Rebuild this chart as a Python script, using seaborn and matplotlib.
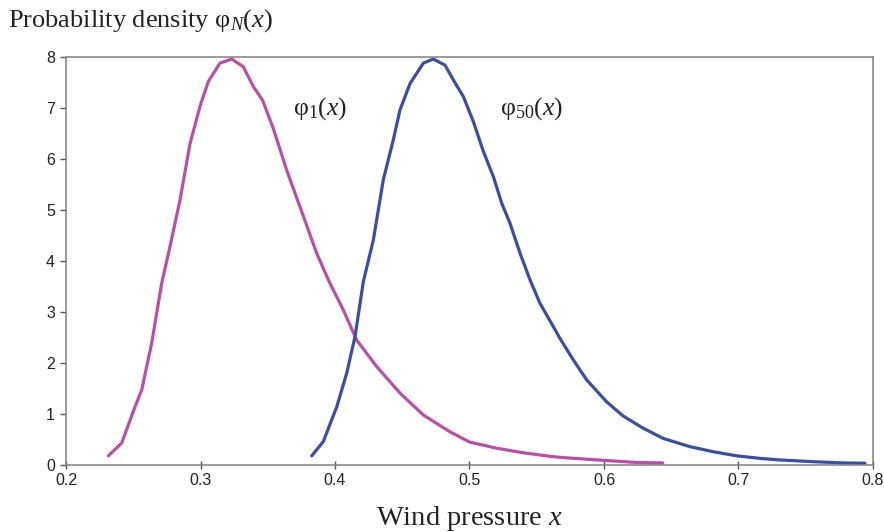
import matplotlib
matplotlib.use("Agg")
import matplotlib.pyplot as plt
import seaborn as sns
import numpy as np

# ---- data ----
x_phi1 = [0.2315, 0.2414, 0.2513, 0.2563, 0.2637, 0.2712, 0.2773, 0.2848, 0.2922,
          0.2996, 0.3058, 0.3145, 0.3232, 0.3318, 0.3393, 0.3462, 0.3541, 0.3641,
          0.3740, 0.3864, 0.3963, 0.4062, 0.4161, 0.4310, 0.4483, 0.4657, 0.4855,
          0.5000, 0.5200, 0.5400, 0.5600, 0.5673, 0.5945, 0.6240, 0.6436]
y_phi1 = [0.18, 0.43, 1.14, 1.47, 2.39, 3.57, 4.28, 5.20, 6.30,
          7.03, 7.52, 7.88, 7.96, 7.81, 7.42, 7.15, 6.60, 5.78,
          5.06, 4.15, 3.56, 3.04, 2.45, 1.93, 1.41, 0.98, 0.65,
          0.45, 0.33, 0.24, 0.17, 0.15, 0.10, 0.05, 0.04]

x_phi50 = [0.3827, 0.3913, 0.4013, 0.4087, 0.4149, 0.4211, 0.4285, 0.4359, 0.4433,
           0.4483, 0.4558, 0.4657, 0.4731, 0.4818, 0.4880, 0.4955, 0.5029, 0.5103,
           0.5178, 0.5240, 0.5301, 0.5376, 0.5450, 0.5524, 0.5624, 0.5673, 0.5772,
           0.5871, 0.6019, 0.6143, 0.6292, 0.6441, 0.6639, 0.6813, 0.6986, 0.7160,
           0.7300, 0.7556, 0.7780, 0.7940]
y_phi50 = [0.18, 0.46, 1.14, 1.80, 2.52, 3.60, 4.41, 5.59, 6.37,
           6.96, 7.48, 7.88, 7.96, 7.84, 7.55, 7.22, 6.73, 6.15,
           5.65, 5.13, 4.74, 4.15, 3.63, 3.17, 2.71, 2.48, 2.06,
           1.67, 1.24, 0.96, 0.72, 0.52, 0.36, 0.26, 0.18, 0.13,
           0.10, 0.065, 0.04, 0.035]

x_ticks = [0.2, 0.3, 0.4, 0.5, 0.6, 0.7, 0.8]
y_ticks = [0, 1, 2, 3, 4, 5, 6, 7, 8]

title_text = "Probability density φ$_N$($x$)"
xlabel_text = "Wind pressure $x$"
label_phi1 = "φ$_1$($x$)"
label_phi50 = "φ$_{50}$($x$)"

color_phi1 = "#BA4FA9"
color_phi50 = "#3A4EA6"

# ---- style ----
sns.set_style("white")
plt.rcParams["font.family"] = ["Liberation Sans", "DejaVu Sans"]
plt.rcParams["mathtext.fontset"] = "custom"
plt.rcParams["mathtext.rm"] = "Liberation Serif"
plt.rcParams["mathtext.it"] = "Liberation Serif:italic"

fig = plt.figure(figsize=(8.84, 5.32), dpi=100)
ax = fig.add_axes([66 / 884, 1 - 465 / 532, (873 - 66) / 884, (465 - 57) / 532])

sns.lineplot(x=x_phi1, y=y_phi1, ax=ax, color=color_phi1, linewidth=2.3,
             sort=False, estimator=None)
sns.lineplot(x=x_phi50, y=y_phi50, ax=ax, color=color_phi50, linewidth=2.3,
             sort=False, estimator=None)

ax.set_xlim(0.2, 0.8)
ax.set_ylim(0, 8)
ax.set_xticks(x_ticks)
ax.set_xticklabels([f"{v:g}" for v in x_ticks])
ax.set_yticks(y_ticks)
ax.set_yticklabels([str(v) for v in y_ticks])

for s in ax.spines.values():
    s.set_visible(True)
    s.set_color("#808080")
    s.set_linewidth(1.1)

ax.tick_params(axis="x", direction="inout", length=6, width=1, color="#555555",
               labelsize=11.5, pad=3, labelcolor="#222222", bottom=True)
ax.tick_params(axis="y", direction="out", length=4, width=1, color="#555555",
               labelsize=11.5, pad=4, labelcolor="#222222", left=True)

serif = ["Liberation Serif", "DejaVu Serif"]
fig.text(8 / 884, 1 - 27 / 532, title_text, family=serif, fontsize=19,
         ha="left", va="baseline", color="#222222")
fig.text(469 / 884, 1 - 525 / 532, xlabel_text, family=serif, fontsize=20.5,
         ha="center", va="baseline", color="#222222")

ax.text(0.3688, 6.98, label_phi1, family=serif, fontsize=18.5,
        ha="left", va="center", color="#222222")
ax.text(0.5227, 6.98, label_phi50, family=serif, fontsize=18.5,
        ha="left", va="center", color="#222222")

ax.set_xlabel("")
ax.set_ylabel("")

fig.savefig("out.png", dpi=100)
